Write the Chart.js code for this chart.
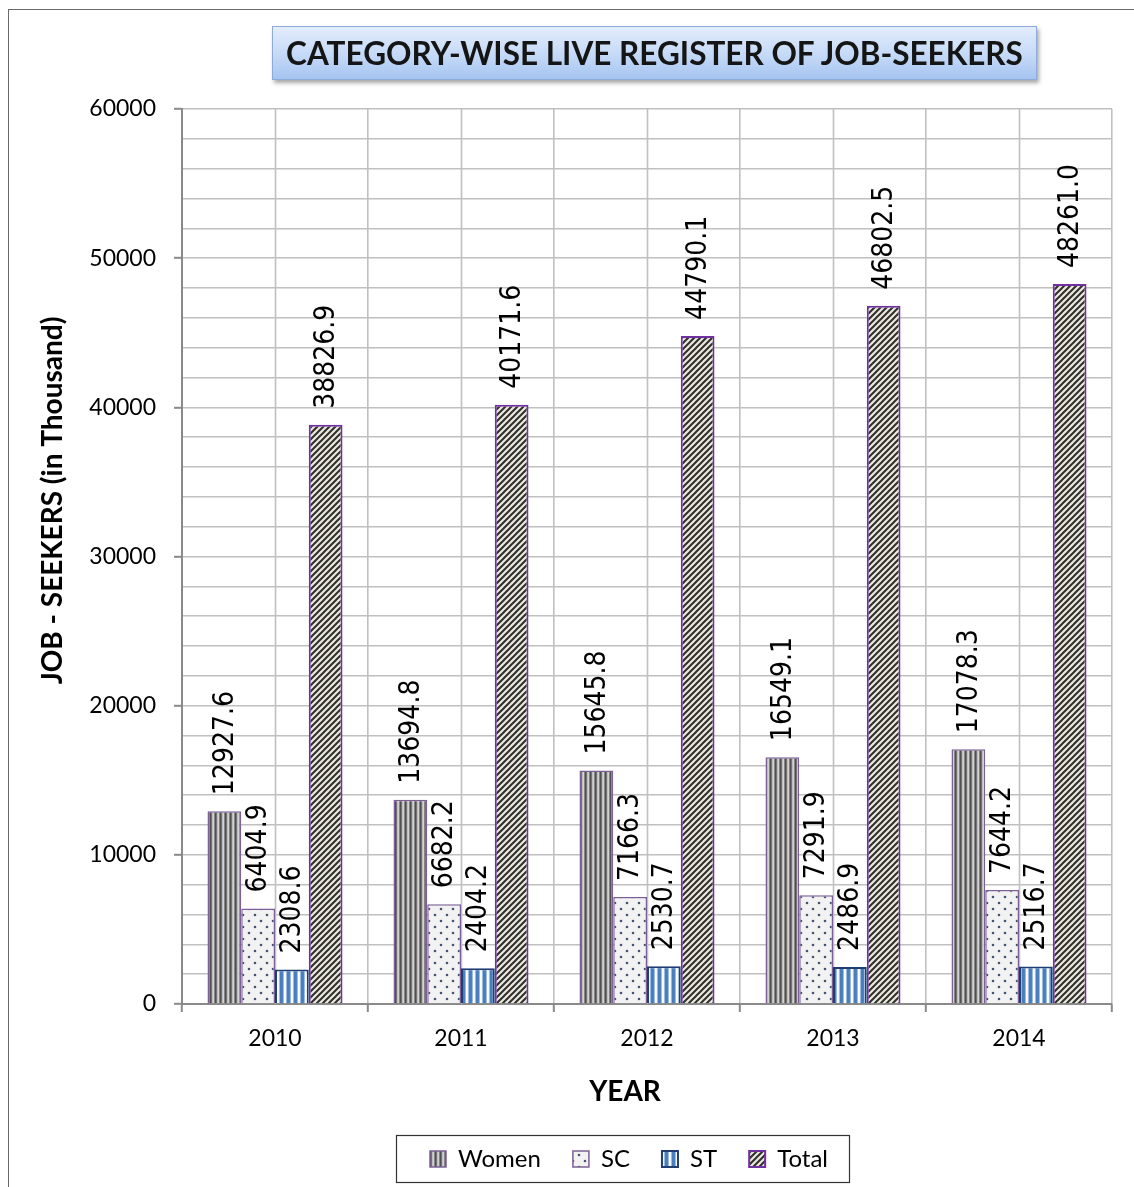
<!DOCTYPE html>
<html>
<head>
<meta charset="utf-8">
<script src="https://cdn.jsdelivr.net/npm/chart.js@4.4.1/dist/chart.umd.min.js"></script>
<style>
  html, body { margin: 0; padding: 0; background: #fff; overflow: hidden; }
  #wrap { position: relative; width: 1134px; height: 1187px; }
  #frame { position: absolute; left: 8px; top: 9px; width: 1300px; height: 1400px;
           border-left: 1.5px solid #6a6a6a; border-top: 1.5px solid #6a6a6a; }
  #c { position: absolute; left: 0; top: 0; }
  #title { position: absolute; left: 272px; top: 26px; width: 765px; height: 54px;
           box-sizing: border-box; border: 1px solid #8eaadb;
           background: linear-gradient(to bottom, #e3edfc 0%, #c4d9f7 55%, #a6c4f1 100%);
           box-shadow: 2px 3px 4px rgba(0,0,0,0.35);
           font-family: Lato, "Open Sans", sans-serif; font-weight: bold; font-size: 31.5px;
           color: #151515; text-align: center; line-height: 52px; white-space: nowrap; }
</style>
</head>
<body>
<div id="wrap">
  <div id="frame"></div>
  <canvas id="c" width="1134" height="1187"></canvas>
  <div id="title">CATEGORY-WISE LIVE REGISTER OF JOB-SEEKERS</div>
</div>
<script>
const categories = ['2010', '2011', '2012', '2013', '2014'];
const seriesNames = ['Women', 'SC', 'ST', 'Total'];
const women = [12927.6, 13694.8, 15645.8, 16549.1, 17078.3];
const sc    = [6404.9, 6682.2, 7166.3, 7291.9, 7644.2];
const st    = [2308.6, 2404.2, 2530.7, 2486.9, 2516.7];
const total = [38826.9, 40171.6, 44790.1, 46802.5, 48261.0];
const yMin = 0, yMax = 60000, yMinorStep = 2000, yMajorStep = 10000;
const xAxisTitle = 'YEAR';
const yAxisTitle = 'JOB - SEEKERS (in Thousand)';

function makePattern(w, h, draw) {
  const cv = document.createElement('canvas');
  cv.width = w; cv.height = h;
  const g = cv.getContext('2d');
  draw(g, w, h);
  return g.createPattern(cv, 'repeat');
}
const ctxMain = document.getElementById('c').getContext('2d');

const womenPat = makePattern(5, 5, (g) => {
  const cols = ['#505050', '#737373', '#bdbdbd', '#d2d2d2', '#858585'];
  cols.forEach((c, i) => { g.fillStyle = c; g.fillRect(i, 0, 1, 5); });
});
const scPat = makePattern(12, 12, (g) => {
  g.fillStyle = '#f2f2f2'; g.fillRect(0, 0, 12, 12);
  g.fillStyle = '#44536f';
  g.beginPath(); g.arc(3, 3, 1.3, 0, Math.PI * 2); g.fill();
  g.beginPath(); g.arc(9, 9, 1.3, 0, Math.PI * 2); g.fill();
});
const stPat = makePattern(7, 7, (g) => {
  const cols = ['#4a7dbb', '#4a7dbb', '#4f82c0', '#9bbbe2', '#ffffff', '#f4f8fd', '#9bbbe2'];
  cols.forEach((c, i) => { g.fillStyle = c; g.fillRect(i, 0, 1, 7); });
});
const totalPat = makePattern(6, 6, (g) => {
  g.fillStyle = '#ebe8dc'; g.fillRect(0, 0, 6, 6);
  g.strokeStyle = '#2f2f2f'; g.lineWidth = 2;
  g.beginPath();
  g.moveTo(-1, 7); g.lineTo(7, -1);
  g.moveTo(-1, 1); g.lineTo(1, -1);
  g.moveTo(5, 7); g.lineTo(7, 5);
  g.stroke();
});

const seriesValues = [women, sc, st, total];
const fills = [womenPat, scPat, stPat, totalPat];
const borders = ['#7b5f96', '#7b5f96', '#1f3d73', '#7030a0'];
const borderWidths = [1.5, 1.5, 2, 2];

const datasets = seriesNames.map((name, i) => ({
  label: name,
  data: seriesValues[i],
  backgroundColor: fills[i],
  borderColor: borders[i],
  borderWidth: borderWidths[i],
  categoryPercentage: 0.726,
  barPercentage: 1.0
}));

const tickFont = { family: 'Lato, "Open Sans", sans-serif', size: 23 };
const gridColor = '#c0c0c0';
const axisColor = '#8a8a8a';

// vertical gridlines through the category centres (boundaries come from the x grid)
const centreGrid = {
  id: 'centreGrid',
  beforeDatasetsDraw(chart) {
    const xs = chart.scales.x, a = chart.chartArea, ctx = chart.ctx;
    ctx.save();
    ctx.strokeStyle = gridColor;
    ctx.lineWidth = 1.6;
    categories.forEach((_, i) => {
      const px = Math.round(xs.getPixelForValue(i)) + 0.5;
      ctx.beginPath(); ctx.moveTo(px, a.top); ctx.lineTo(px, a.bottom); ctx.stroke();
    });
    ctx.restore();
  }
};

const axisTitles = {
  id: 'axisTitles',
  afterDraw(chart) {
    const a = chart.chartArea, ctx = chart.ctx;
    ctx.save();
    ctx.fillStyle = '#000';
    ctx.font = 'bold 28px Lato, "Open Sans", sans-serif';
    ctx.textAlign = 'center';
    ctx.textBaseline = 'middle';
    ctx.fillText(xAxisTitle, (a.left + a.right) / 2 - 22, a.bottom + 88);
    ctx.translate(53, (a.top + a.bottom) / 2 - 56);
    ctx.rotate(-Math.PI / 2);
    ctx.fillText(yAxisTitle, 0, 0);
    ctx.restore();
  }
};

const dataLabels = {
  id: 'dataLabels',
  afterDatasetsDraw(chart) {
    const ctx = chart.ctx;
    ctx.save();
    ctx.fillStyle = '#000';
    ctx.font = '28px "Liberation Sans Narrow", "DejaVu Sans Condensed", sans-serif';
    ctx.textAlign = 'left';
    ctx.textBaseline = 'middle';
    chart.data.datasets.forEach((ds, i) => {
      const meta = chart.getDatasetMeta(i);
      meta.data.forEach((bar, j) => {
        ctx.save();
        ctx.translate(bar.x + 1, bar.y - 16);
        ctx.rotate(-Math.PI / 2);
        ctx.fillText(ds.data[j].toFixed(1), 0, 0);
        ctx.restore();
      });
    });
    ctx.restore();
  }
};

const legendFrame = {
  id: 'legendFrame',
  afterLayout(chart) {
    const lg = chart.legend;
    if (!lg) return;
    const shift = 629 - (lg.right + lg.left) / 2;
    lg.left += shift; lg.right += shift;
  },
  afterDraw(chart) {
    const lg = chart.legend;
    if (!lg || !lg.legendHitBoxes || !lg.legendHitBoxes.length) return;
    const hb = lg.legendHitBoxes;
    let minX = Infinity, maxX = -Infinity, cy = 0;
    hb.forEach(h => { minX = Math.min(minX, h.left); maxX = Math.max(maxX, h.left + h.width); cy = h.top + h.height / 2; });
    const ctx = chart.ctx;
    ctx.save();
    ctx.strokeStyle = '#333';
    ctx.lineWidth = 1.2;
    ctx.strokeRect(Math.round(minX - 34) + 0.5, Math.round(cy - 24) + 0.5, Math.round(maxX - minX + 55), 47);
    ctx.restore();
  }
};

new Chart(ctxMain, {
  type: 'bar',
  data: { labels: categories, datasets },
  plugins: [centreGrid, dataLabels, legendFrame, axisTitles],
  options: {
    responsive: false,
    animation: false,
    layout: { padding: { top: 109, right: 22, left: 0, bottom: 6 } },
    plugins: {
      title: { display: false },
      tooltip: { enabled: false },
      legend: {
        position: 'bottom',
        labels: {
          boxWidth: 16, boxHeight: 16, padding: 32,
          color: '#000',
          font: { family: 'Lato, "Open Sans", sans-serif', size: 24 }
        }
      }
    },
    scales: {
      x: {
        type: 'category',
        offset: true,
        grid: { display: true, drawOnChartArea: true, drawTicks: true, tickLength: 8,
                color: gridColor, lineWidth: 1.6, tickColor: axisColor, tickWidth: 2, offset: true },
        border: { display: true, color: axisColor, width: 2 },
        ticks: { color: '#000', font: tickFont, padding: 13, maxRotation: 0, autoSkip: false },
        title: { display: false },
        afterFit(s) { s.height = 111; }
      },
      y: {
        min: yMin, max: yMax,
        ticks: {
          stepSize: yMinorStep, autoSkip: false, color: '#000', font: tickFont, padding: 18,
          callback: (v) => (v % yMajorStep === 0 ? String(v) : '')
        },
        grid: {
          color: gridColor, lineWidth: 1.6, tickLength: 8, tickWidth: 2,
          tickColor: (c) => (c.tick && c.tick.value % yMajorStep === 0 ? axisColor : 'rgba(0,0,0,0)')
        },
        border: { display: true, color: axisColor, width: 2 },
        title: { display: false },
        afterFit(s) { s.width = 182; }
      }
    }
  }
});
</script>
</body>
</html>
